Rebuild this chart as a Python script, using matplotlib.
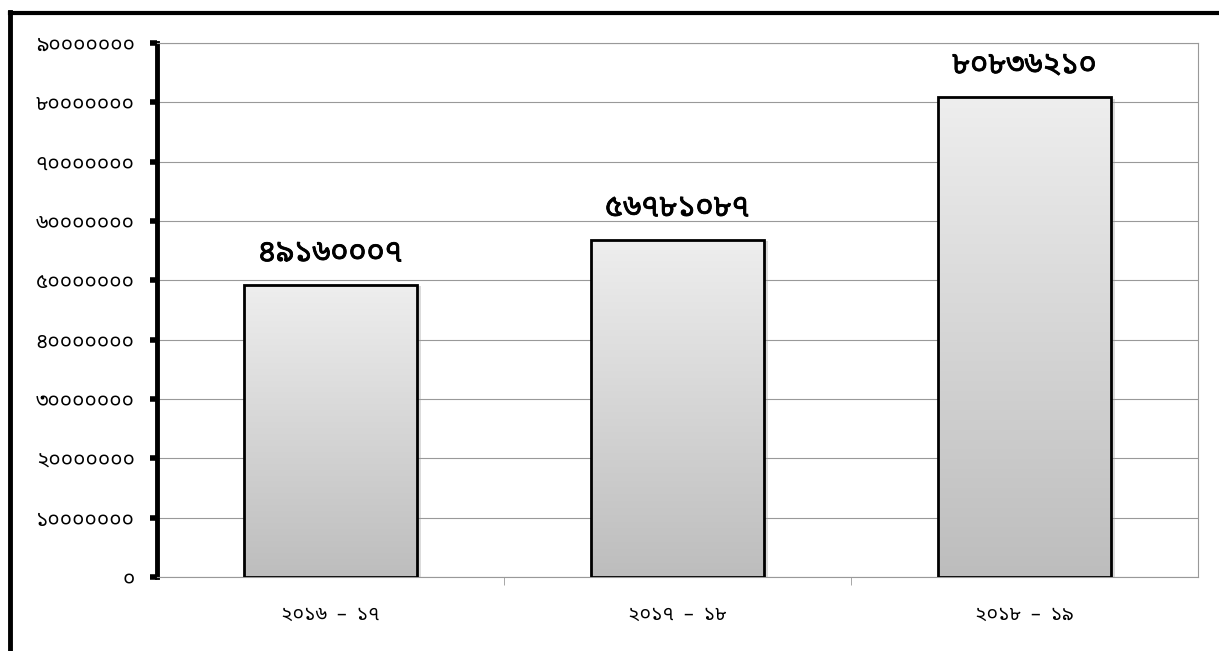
import numpy as np
import matplotlib
matplotlib.use("Agg")
import matplotlib.pyplot as plt
import matplotlib.patheffects as pe
from matplotlib import font_manager
from matplotlib.ft2font import FT2Font
from matplotlib.lines import Line2D

# data (Bengali numerals)
years = ["২০১৬  –  ১৭", "২০১৭  –  ১৮", "২০১৮  –  ১৯"]
values = [49160007, 56781087, 80836210]
bar_labels = ["৪৯১৬০০০৭", "৫৬৭৮১০৮৭", "৮০৮৩৬২১০"]
yticks = [0, 10000000, 20000000, 30000000, 40000000, 50000000,
          60000000, 70000000, 80000000, 90000000]
ytick_labels = ["০", "১০০০০০০০", "২০০০০০০০", "৩০০০০০০০", "৪০০০০০০০",
                "৫০০০০০০০", "৬০০০০০০০", "৭০০০০০০০", "৮০০০০০০০", "৯০০০০০০০"]


def find_bengali_font():
    names = []
    for f in font_manager.fontManager.ttflist:
        try:
            if 0x09E6 in FT2Font(f.fname).get_charmap():
                names.append(f.name)
        except Exception:
            pass
    for pref in ["Noto Sans Bengali", "Noto Sans Bengali UI", "Hind Siliguri",
                 "Anek Bangla", "Baloo Da 2", "Lohit Bengali"]:
        if pref in names:
            return pref
    names = [n for n in names if "Unifont" not in n]
    return names[0] if names else None


beng = find_bengali_font()
fams = ([beng] if beng else []) + ["DejaVu Sans"]
plt.rcParams['font.family'] = fams

fig = plt.figure(figsize=(12.19, 6.51), dpi=100)
ax = fig.add_axes([157/1219, 1-577/651, (1198-157)/1219, (577-43)/651])

x = np.arange(len(values))
bars = ax.bar(x, values, width=0.5, facecolor='none', edgecolor='black',
              linewidth=2, zorder=3)

# gradient fill + soft shadow
grad = np.linspace(0, 1, 256).reshape(-1, 1)
cmap = matplotlib.colors.LinearSegmentedColormap.from_list('g', ['#bdbdbd', '#eeeeee'])
for b in bars:
    x0, w, h = b.get_x(), b.get_width(), b.get_height()
    ax.bar(x0 + w/2 + 0.012, h, width=w, bottom=-h*0.004, color='#999999',
           alpha=0.35, zorder=1, linewidth=0)
    im = ax.imshow(grad, extent=[x0, x0 + w, 0, h], origin='lower', cmap=cmap,
                   aspect='auto', zorder=2)
    im.set_clip_path(b)

for xi, v, lab in zip(x, values, bar_labels):
    ax.text(xi, v + 5400000, lab, ha='center', va='center', fontsize=22,
            fontweight='bold',
            path_effects=[pe.withStroke(linewidth=0.6, foreground='black')])

ax.set_xlim(-0.5, 2.5)
ax.set_ylim(0, 90000000)
ax.set_yticks(yticks)
ax.set_yticklabels(ytick_labels, fontsize=15)
ax.set_xticks(x)
ax.set_xticklabels(years, fontsize=14)
ax.tick_params(axis='x', length=0, pad=20)
ax.tick_params(axis='y', length=5, width=4, color='black', pad=11)
ax.set_xticks([0.5, 1.5], minor=True)
ax.tick_params(axis='x', which='minor', length=6, color='#999999')
ax.grid(axis='y', color='#999999', linewidth=0.8, zorder=0)
ax.set_axisbelow(True)

for s in ['top', 'right', 'bottom']:
    ax.spines[s].set_color('#999999')
    ax.spines[s].set_linewidth(0.8)
ax.spines['left'].set_linewidth(3.5)
ax.spines['left'].set_color('black')

# outer frame lines
fig.add_artist(Line2D([10/1219, 10/1219], [0, 1-12/651], color='black',
                      linewidth=3.5, transform=fig.transFigure))
fig.add_artist(Line2D([10/1219, 1], [1-13/651, 1-13/651], color='black',
                      linewidth=3, transform=fig.transFigure))

fig.savefig('out.png', dpi=100)
